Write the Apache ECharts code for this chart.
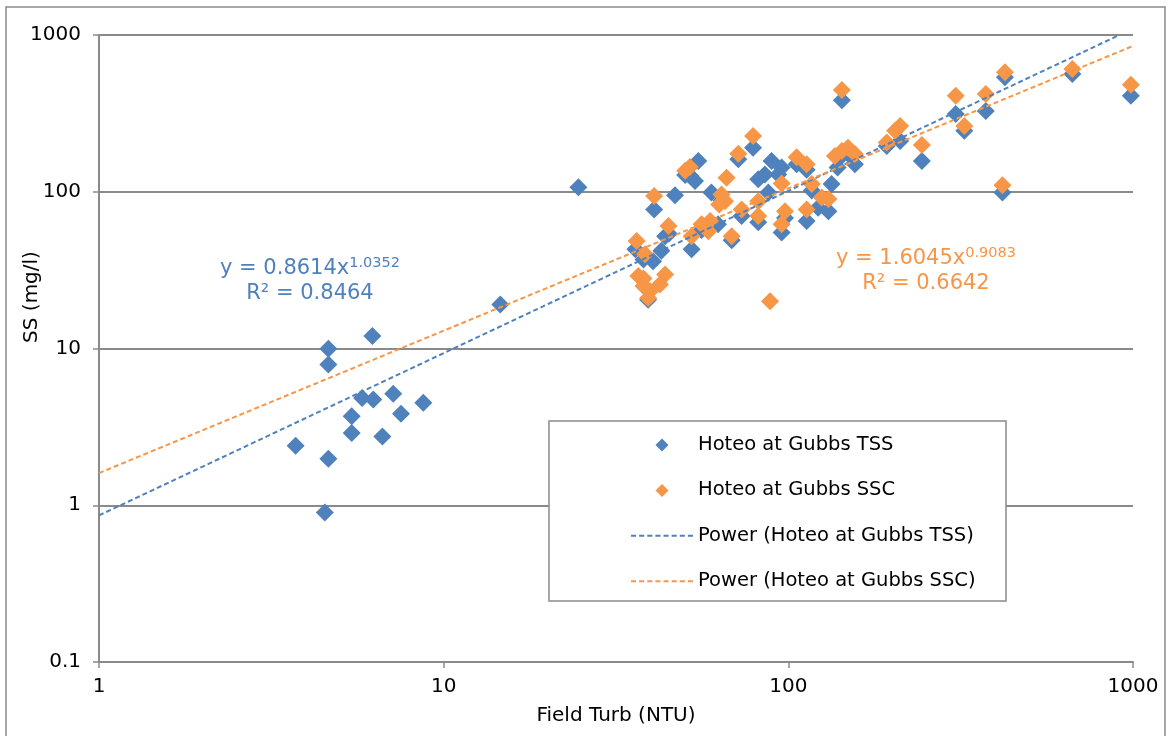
<!DOCTYPE html>
<html>
<head>
<meta charset="utf-8">
<script src="https://cdn.jsdelivr.net/npm/echarts@6/dist/echarts.min.js"></script>
<style>
html,body{margin:0;padding:0;background:#fff;}
#chart{width:1171px;height:736px;}
</style>
</head>
<body>
<div id="chart"></div>
<script>
// ---- Data ----
const xTicks = [1, 10, 100, 1000];
const yTicks = [0.1, 1, 10, 100, 1000];

const tssTurb = [3.72, 4.52, 4.63, 4.63, 4.63, 5.41, 5.41, 5.8, 6.21, 6.25, 6.64, 7.14, 7.52, 8.73, 14.6, 24.6,
  36, 38, 40.5, 39.2, 40.8, 42.8, 43.9, 45, 46.9, 52.4, 52, 53.6, 54.8, 59.8, 62.5, 68.5, 71.6, 79, 81.8, 85.5,
  87.5, 89.4, 93.5, 95.6, 95.6, 113, 122, 130.7, 133.5, 139, 156,
  50.2, 56, 59.3, 64, 73.2, 81.8, 97.8, 105.7, 113, 117, 143, 149,
  143, 193, 211, 244, 306, 324, 374, 418, 425, 667, 986];
const tssValues = [2.40, 0.90, 1.98, 7.9, 9.95, 3.69, 2.89, 4.84, 12.0, 4.72, 2.75, 5.14, 3.83, 4.50, 19.1, 107,
  43, 37, 36, 20.5, 77, 42, 52, 54, 95, 43, 126, 117, 157, 99, 62, 49, 161, 191, 120, 129,
  99, 157, 129, 143, 55, 65, 79, 75, 112, 143, 150,
  128, 57, 58, 88, 70, 64, 68, 150, 138, 102, 170, 175,
  384, 196, 211, 157, 313, 245, 328, 99, 537, 563, 409];

const sscTurb = [36.3, 38.4, 36.7, 38, 39.7, 39.2, 38, 43.9, 42.4, 40.8, 44.9, 50.2, 51.8, 52.4, 56, 58.6, 59.3,
  64, 65.5, 63, 66.2, 68.5, 71.6, 73.2, 79, 81.8, 81.8, 88.5, 95.6, 97.8, 95.6, 105.7, 113, 113, 117, 125, 130.7,
  136.5, 143, 149, 156, 143, 193, 204, 211, 244, 306, 324, 374, 418, 425, 667, 986];
const sscValues = [48.5, 40, 29, 28, 23.2, 21, 25, 29.7, 25.6, 94, 60.5, 136, 144, 52, 62, 56, 65,
  96, 87, 83, 123, 52, 175, 77, 227, 70, 87, 20, 113, 75, 62, 166, 150, 77, 112, 92, 90,
  169, 182, 191, 174, 446, 206, 245, 263, 199, 409, 263, 420, 110, 578, 607, 482];

// Trendline coefficients as printed on the chart
const tssFit = { a: 0.8614, b: 1.0352, r2: '0.8464' };
const sscFit = { a: 1.6045, b: 0.9083, r2: '0.6642' };
const fitRange = [1, 1000];

const seriesNames = ['Hoteo at Gubbs TSS', 'Hoteo at Gubbs SSC',
  'Power (Hoteo at Gubbs TSS)', 'Power (Hoteo at Gubbs SSC)'];

// ---- build ----
const BLUE = '#4F81BD', ORANGE = '#F79646', GRID = '#8a8a8a';
const FONT = 'DejaVu Sans';
const DIAMOND = 'path://M5,0L10,5L5,10L0,5Z';
// dashed-line legend icon: 62 x 2 made of 5-long dashes with 3 gaps
function dashIcon() {
  let p = '';
  for (let x = 0; x < 62; x += 8) {
    const e = Math.min(x + 5, 62);
    p += 'M' + x + ',0L' + e + ',0L' + e + ',2L' + x + ',2Z';
  }
  return 'path://' + p;
}
const DASH = dashIcon();
function pairs(xs, ys) { return xs.map((x, i) => [x, ys[i]]); }
function fitLine(f) {
  const x0 = fitRange[0], x1 = fitRange[1];
  let xe = x1, ye = f.a * Math.pow(x1, f.b);
  if (ye > 1000) { xe = Math.pow(1000 / f.a, 1 / f.b); ye = 1000; }
  return [[x0, f.a * Math.pow(x0, f.b)], [xe, ye]];
}

const chart = echarts.init(document.getElementById('chart'), null, { renderer: 'canvas' });
const option = {
  animation: false,
  backgroundColor: '#fff',
  textStyle: { fontFamily: FONT },
  grid: { left: 99, right: 38, top: 35, bottom: 74, containLabel: false },
  xAxis: {
    type: 'log', logBase: 10, min: xTicks[0], max: xTicks[xTicks.length - 1],
    name: 'Field Turb (NTU)', nameLocation: 'middle', nameGap: 44,
    nameTextStyle: { fontSize: 20, color: '#000', fontFamily: FONT },
    axisLine: { lineStyle: { color: GRID, width: 2 } },
    axisTick: { show: true, length: 6, lineStyle: { color: GRID, width: 1.5 } },
    axisLabel: { fontSize: 20, color: '#000', margin: 15, fontFamily: FONT,
      formatter: v => String(v) },
    splitLine: { show: false }
  },
  yAxis: {
    type: 'log', logBase: 10, min: yTicks[0], max: yTicks[yTicks.length - 1],
    axisLine: { show: true, lineStyle: { color: GRID, width: 2 } },
    axisTick: { show: true, length: 6, lineStyle: { color: GRID, width: 1.5 } },
    axisLabel: { fontSize: 20, color: '#000', margin: 18, fontFamily: FONT,
      formatter: v => String(v) },
    splitLine: { show: true, lineStyle: { color: GRID, width: 2 } }
  },
  legend: {
    orient: 'vertical', left: 626, top: 430, z: 20,
    itemWidth: 62, itemHeight: 13, itemGap: 25.4,
    textStyle: { fontSize: 19.5, color: '#000', fontFamily: FONT },
    data: [
      { name: seriesNames[0], icon: DIAMOND },
      { name: seriesNames[1], icon: DIAMOND },
      { name: seriesNames[2], icon: DASH, itemStyle: { color: BLUE } },
      { name: seriesNames[3], icon: DASH, itemStyle: { color: ORANGE } }
    ]
  },
  series: [
    { name: seriesNames[0], type: 'scatter', symbol: 'diamond', symbolSize: 18,
      itemStyle: { color: BLUE, opacity: 1 }, data: pairs(tssTurb, tssValues), z: 2 },
    { name: seriesNames[1], type: 'scatter', symbol: 'diamond', symbolSize: 18,
      itemStyle: { color: ORANGE, opacity: 1 }, data: pairs(sscTurb, sscValues), z: 3 },
    { name: seriesNames[2], type: 'line', showSymbol: false, symbol: 'none', z: 4,
      lineStyle: { color: BLUE, width: 2, type: [5, 3] }, itemStyle: { color: BLUE },
      data: fitLine(tssFit), silent: true },
    { name: seriesNames[3], type: 'line', showSymbol: false, symbol: 'none', z: 4,
      lineStyle: { color: ORANGE, width: 2, type: [5, 3] }, itemStyle: { color: ORANGE },
      data: fitLine(sscFit), silent: true }
  ],
  graphic: [
    { type: 'rect', z: 0, silent: true,
      shape: { x: 6, y: 7, width: 1159, height: 740 },
      style: { fill: 'none', stroke: '#8a8a8a', lineWidth: 1.5 } },
    { type: 'rect', z: 15, silent: true,
      shape: { x: 549, y: 421, width: 457, height: 180 },
      style: { fill: '#fff', stroke: '#8a8a8a', lineWidth: 1.5 } },
    { type: 'text', z: 15, x: 32, y: 297, rotation: Math.PI / 2,
      style: { text: 'SS (mg/l)', fontSize: 20, fill: '#000', fontFamily: FONT,
        textAlign: 'center', textVerticalAlign: 'middle' } },
    { type: 'text', z: 15, x: 310, y: 281,
      style: { text: '{a|y = ' + tssFit.a + 'x}{s|' + tssFit.b + '}\n{a|R² = ' + tssFit.r2 + '}',
        textAlign: 'center', textVerticalAlign: 'middle',
        rich: {
          a: { fontSize: 21, fill: BLUE, color: BLUE, fontFamily: FONT, lineHeight: 25 },
          s: { fontSize: 14.5, fill: BLUE, color: BLUE, fontFamily: FONT, verticalAlign: 'top', lineHeight: 25 }
        } } },
    { type: 'text', z: 15, x: 926, y: 271,
      style: { text: '{a|y = ' + sscFit.a + 'x}{s|' + sscFit.b + '}\n{a|R² = ' + sscFit.r2 + '}',
        textAlign: 'center', textVerticalAlign: 'middle',
        rich: {
          a: { fontSize: 21, fill: ORANGE, color: ORANGE, fontFamily: FONT, lineHeight: 25 },
          s: { fontSize: 14.5, fill: ORANGE, color: ORANGE, fontFamily: FONT, verticalAlign: 'top', lineHeight: 25 }
        } } }
  ]
};
chart.setOption(option);
</script>
</body>
</html>
